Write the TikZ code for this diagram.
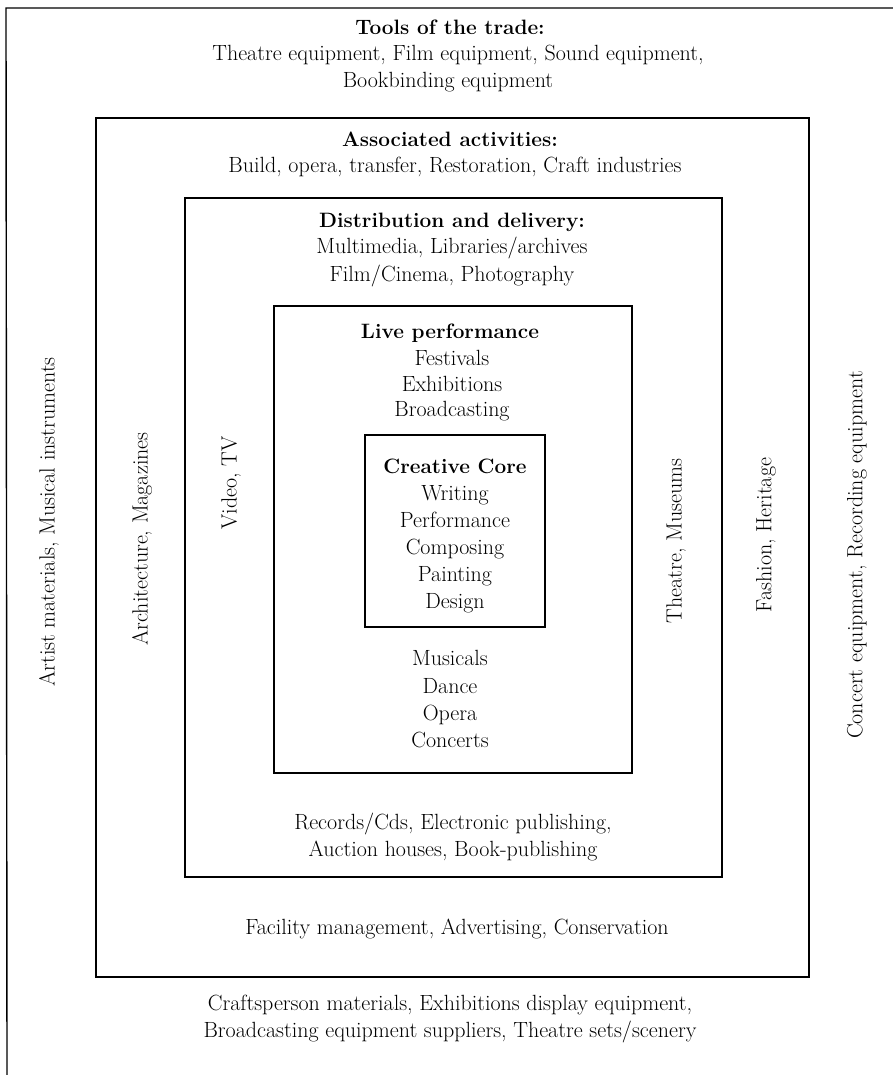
\documentclass[tikz,border=0pt]{standalone}
\begin{document}
\begin{tikzpicture}[x=1pt,y=-1pt,
  txt/.style={font=\fontsize{22}{27}\selectfont, inner sep=0pt, anchor=base},
  hd/.style={txt, font=\fontsize{20.8}{27}\selectfont\bfseries},
  vtxt/.style={font=\fontsize{22}{27}\selectfont, inner sep=0pt, rotate=90, anchor=center},
  boxline/.style={line width=1.8pt},
  frameline/.style={line width=1.4pt}]
\useasboundingbox[fill=white] (0,0) rectangle (893,1075);
% outer frame (top and left only)
\draw[frameline] (893,8) -- (6,8) -- (7,1075);
% nested boxes
\draw[boxline] (96,118) rectangle (809,977);
\draw[boxline] (185,198) rectangle (722,877);
\draw[boxline] (274,306) rectangle (632,773);
\draw[boxline] (365,435) rectangle (545,627);
% Tools of the trade
\node[hd]  (tools)  at (450,35)  {Tools of the trade:};
\node[txt] (tools1) at (458,61)  {Theatre equipment, Film equipment, Sound equipment,};
\node[txt] (tools2) at (448,88)  {Bookbinding equipment};
% Associated activities
\node[hd]  (assoc)  at (450,147) {Associated activities:};
\node[txt] (assoc1) at (455,173) {Build, opera, transfer, Restoration, Craft industries};
% Distribution and delivery
\node[hd]  (dist)   at (452,228) {Distribution and delivery:};
\node[txt] (dist1)  at (452,253) {Multimedia, Libraries/archives};
\node[txt] (dist2)  at (452,281) {Film/Cinema, Photography};
% Live performance
\node[hd]  (live)   at (450,338) {Live performance};
\node[txt] (live1)  at (452,365) {Festivals};
\node[txt] (live2)  at (452,391) {Exhibitions};
\node[txt] (live3)  at (452,416) {Broadcasting};
% Creative core
\node[hd]  (core)   at (455,473) {Creative Core};
\node[txt] (core1)  at (455,500) {Writing};
\node[txt] (core2)  at (455,527) {Performance};
\node[txt] (core3)  at (455,554) {Composing};
\node[txt] (core4)  at (455,581) {Painting};
\node[txt] (core5)  at (455,608) {Design};
% Live performance lower list
\node[txt] (live4)  at (450,665) {Musicals};
\node[txt] (live5)  at (450,693) {Dance};
\node[txt] (live6)  at (450,720) {Opera};
\node[txt] (live7)  at (450,747) {Concerts};
% Distribution lower
\node[txt] (dist3)  at (453,829) {Records/Cds, Electronic publishing,};
\node[txt] (dist4)  at (453,856) {Auction houses, Book-publishing};
% Associated lower
\node[txt] (assoc2) at (457,934) {Facility management, Advertising, Conservation};
% Tools lower
\node[txt] (tools3) at (450,1010) {Craftsperson materials, Exhibitions display equipment,};
\node[txt] (tools4) at (450,1037) {Broadcasting equipment suppliers, Theatre sets/scenery};
% vertical texts
\node[vtxt] (toolsL) at (49,522)  {Artist materials, Musical instruments};
\node[vtxt] (assocL) at (142,539) {Architecture, Magazines};
\node[vtxt] (distL)  at (231,483) {Video, TV};
\node[vtxt] (distR)  at (676,541) {Theatre, Museums};
\node[vtxt] (assocR) at (766,535) {Fashion, Heritage};
\node[vtxt] (toolsR) at (857,555) {Concert equipment, Recording equipment};
\end{tikzpicture}
\end{document}
